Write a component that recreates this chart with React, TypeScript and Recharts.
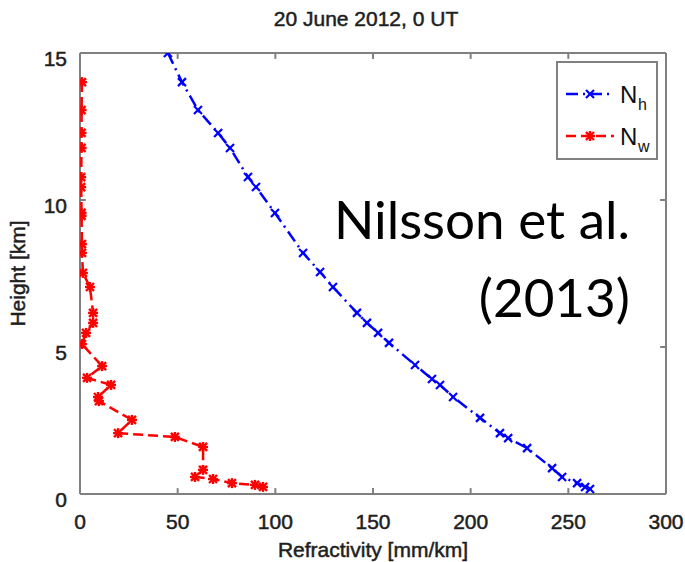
import React from "react";
import { ScatterChart, Scatter, XAxis, YAxis, ReferenceLine } from "recharts";

// refractivity [mm/km] vs height [km]
const heights = [14.01, 13.06, 12.28, 11.77, 10.78, 10.44, 9.56, 8.2, 7.55, 7.04, 6.16, 5.82, 5.48, 5.14, 4.39, 3.91, 3.71, 3.3, 2.59, 2.07, 1.9, 1.56, 0.88, 0.58, 0.37, 0.24, 0.17];
const hydroValues = [52.2, 60.4, 70.7, 76.8, 86.0, 90.1, 99.8, 114.2, 122.9, 129.5, 141.8, 146.9, 152.6, 158.2, 171.5, 180.2, 184.3, 191.0, 204.8, 215.0, 219.2, 228.9, 241.7, 246.8, 254.5, 258.6, 261.1];

const wetHeights = [14.01, 13.06, 12.28, 11.77, 10.78, 10.44, 9.56, 9.46, 8.5, 8.2, 7.52, 7.04, 6.16, 5.82, 5.48, 5.1, 4.35, 3.95, 3.71, 3.3, 3.16, 2.52, 2.07, 1.94, 1.6, 0.82, 0.58, 0.51, 0.37, 0.31, 0.24];
const wetValues = [1.0, 0.8, 0.8, 0.8, 0.6, 0.6, 0.8, 0.8, 1.0, 1.0, 1.5, 5.1, 6.7, 6.7, 3.1, 1.0, 11.3, 3.6, 15.9, 9.2, 9.7, 26.6, 19.5, 48.6, 63.0, 63.0, 58.9, 68.1, 77.8, 89.6, 93.7];

const xTicks = [0, 50, 100, 150, 200, 250, 300];
const yTicks = [0, 5, 10, 15];

const hydroData = [{ n: 45, h: 15 }, ...heights.map((h, i) => ({ n: hydroValues[i], h }))];
const wetData = wetHeights.map((h, i) => ({ n: wetValues[i], h }));

const AXIS = "#808080";
const FONT = "'Liberation Sans', Arial, sans-serif";
const TXT = { fontFamily: FONT, fontSize: 21, fill: "#1e1e1e", stroke: "#1e1e1e", strokeWidth: 0.5 };
// inward tick length in data units (about 6px)
const TX = 3;
const TY = 0.2;

const CrossMark = (props: any) => {
  const { cx, cy } = props;
  const s = 4;
  return (
    <g stroke="#0000ff" strokeWidth={2.2}>
      <line x1={cx - s} y1={cy - s} x2={cx + s} y2={cy + s} />
      <line x1={cx - s} y1={cy + s} x2={cx + s} y2={cy - s} />
    </g>
  );
};

const StarMark = (props: any) => {
  const { cx, cy } = props;
  const s = 4;
  return (
    <g stroke="#ff0000" strokeWidth={2.4}>
      <line x1={cx - s} y1={cy - s} x2={cx + s} y2={cy + s} />
      <line x1={cx - s} y1={cy + s} x2={cx + s} y2={cy - s} />
      <line x1={cx - s - 1} y1={cy} x2={cx + s + 1} y2={cy} />
      <line x1={cx} y1={cy - s - 1} x2={cx} y2={cy + s + 1} />
    </g>
  );
};

const XTick = (props: any) => {
  const { x, y, payload } = props;
  return (
    <text x={x} y={y} textAnchor="middle" dominantBaseline="hanging" {...TXT}>
      {payload.value}
    </text>
  );
};

const YTick = (props: any) => {
  const { x, y, payload } = props;
  return (
    <text x={x} y={y + 5} textAnchor="end" dominantBaseline="central" {...TXT}>
      {payload.value}
    </text>
  );
};

const LegendBox = () => (
  <div
    style={{
      position: "absolute",
      left: 556,
      top: 61,
      width: 102,
      height: 99,
      border: `2px solid ${AXIS}`,
      background: "#fff",
      boxSizing: "border-box",
    }}
  >
    <svg width={98} height={95}>
      <line x1={8} y1={31} x2={56} y2={31} stroke="#0000ff" strokeWidth={2.5} strokeDasharray="12 5 2 5" />
      <CrossMark cx={32} cy={31} />
      <text x={62} y={40} fontSize={24} fontFamily={FONT} fill="#111">N</text>
      <text x={80} y={47} fontSize={16} fontFamily={FONT} fill="#111">h</text>
      <line x1={8} y1={73} x2={56} y2={73} stroke="#ff0000" strokeWidth={2.5} strokeDasharray="10 5" />
      <StarMark cx={32} cy={73} />
      <text x={62} y={82} fontSize={24} fontFamily={FONT} fill="#111">N</text>
      <text x={80} y={89} fontSize={16} fontFamily={FONT} fill="#111">w</text>
    </svg>
  </div>
);

export default function App() {
  const tickLines = [
    ...xTicks.slice(1, -1).flatMap((t) => [
      { k: `xb${t}`, seg: [{ x: t, y: 0 }, { x: t, y: TY }] },
      { k: `xt${t}`, seg: [{ x: t, y: 15 }, { x: t, y: 15 - TY }] },
    ]),
    ...yTicks.slice(1, -1).flatMap((t) => [
      { k: `yl${t}`, seg: [{ x: 0, y: t }, { x: TX, y: t }] },
      { k: `yr${t}`, seg: [{ x: 300, y: t }, { x: 300 - TX, y: t }] },
    ]),
  ];

  return (
    <div style={{ position: "absolute", left: 0, top: 0, width: 685, height: 562, background: "#fff" }}>
      <svg width={685} height={40} style={{ position: "absolute", left: 0, top: 0 }}>
        <text x={366} y={26} textAnchor="middle" {...TXT}>
          20 June 2012, 0 UT
        </text>
      </svg>
      <div style={{ position: "absolute", left: 0, top: 0 }}>
        <ScatterChart width={685} height={562} margin={{ top: 52, right: 18, bottom: 0, left: 0 }}>
          <XAxis
            xAxisId="b"
            type="number"
            dataKey="n"
            domain={[0, 300]}
            ticks={xTicks}
            allowDataOverflow
            height={68}
            stroke={AXIS}
            strokeWidth={2}
            tickLine={false}
            tickMargin={14}
            tick={<XTick />}
            label={{
              value: "Refractivity [mm/km]",
              position: "insideBottom",
              offset: 5,
              style: TXT,
            }}
          />
          <XAxis
            xAxisId="t"
            orientation="top"
            type="number"
            domain={[0, 300]}
            ticks={xTicks}
            height={1}
            stroke={AXIS}
            strokeWidth={2}
            tickLine={false}
            tick={false}
          />
          <YAxis
            yAxisId="l"
            type="number"
            dataKey="h"
            domain={[0, 15]}
            ticks={yTicks}
            allowDataOverflow
            width={80}
            stroke={AXIS}
            strokeWidth={2}
            tickLine={false}
            tickMargin={7}
            tick={<YTick />}
            label={{
              value: "Height [km]",
              angle: -90,
              position: "insideLeft",
              offset: 18,
              style: { ...TXT, textAnchor: "middle" },
            }}
          />
          <YAxis
            yAxisId="r"
            orientation="right"
            type="number"
            domain={[0, 15]}
            ticks={yTicks}
            width={1}
            stroke={AXIS}
            strokeWidth={2}
            tickLine={false}
            tick={false}
          />
          {tickLines.map((t) => (
            <ReferenceLine
              key={t.k}
              xAxisId="b"
              yAxisId="l"
              segment={t.seg}
              stroke={AXIS}
              strokeWidth={2}
            />
          ))}
          <Scatter
            name="Nh"
            data={hydroData}
            xAxisId="b"
            yAxisId="l"
            line={{ stroke: "#0000ff", strokeWidth: 2.5, strokeDasharray: "12 5 2 5" }}
            lineType="joint"
            shape={<CrossMark />}
            isAnimationActive={false}
          />
          <Scatter
            name="Nw"
            data={wetData}
            xAxisId="b"
            yAxisId="l"
            line={{ stroke: "#ff0000", strokeWidth: 2.5, strokeDasharray: "10 5" }}
            lineType="joint"
            shape={<StarMark />}
            isAnimationActive={false}
          />
        </ScatterChart>
      </div>
      <LegendBox />
      <div
        style={{
          position: "absolute",
          right: 55,
          top: 180,
          textAlign: "right",
          fontFamily: "Lato, 'Open Sans', sans-serif",
          fontSize: 53,
          lineHeight: "78px",
          color: "#000",
        }}
      >
        Nilsson et al.
        <br />
        (2013)
      </div>
    </div>
  );
}
